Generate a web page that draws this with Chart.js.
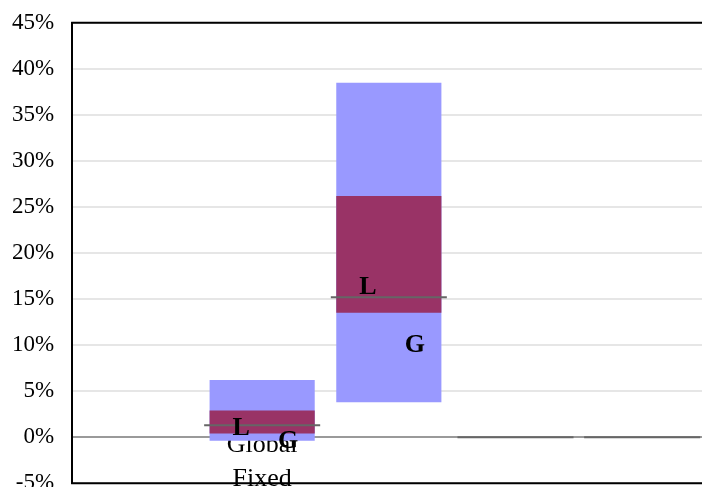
<!DOCTYPE html>
<html>
<head>
<meta charset="utf-8">
<script src="https://cdn.jsdelivr.net/npm/chart.js@4"></script>
<style>
  html, body { margin: 0; padding: 0; background: #fff; overflow: hidden; }
  body { width: 702px; height: 487px; position: relative; }
  #wrap { position: absolute; left: -19px; top: -9px; width: 726px; height: 524px; }
</style>
</head>
<body>
<div id="wrap"><canvas id="c"></canvas></div>
<script>
// Categories along the x axis
const categories = ['', ['Global', 'Fixed'], '', '', ''];

// Outer range (low, high) in percent
const outerLow  = [null, -0.4, 3.8, null, null];
const outerHigh = [null, 6.2, 38.5, null, null];

// Inner range (low, high) in percent
const innerLow  = [null, 0.4, 13.5, null, null];
const innerHigh = [null, 2.9, 26.2, null, null];

// Median marker per category
const medians = [null, 1.3, 15.2, 0, 0];

// Point markers labelled "L" and "G"
const localVals  = [null, 1.0, 16.3, null, null];
const globalVals = [null, -0.4, 10.0, null, null];

// Y axis ticks
const yMin = -5, yMax = 45, yStep = 5;

const SERIF = '"Liberation Serif", "Times New Roman", serif';

function pairs(lo, hi) {
  return lo.map((v, i) => (v == null || hi[i] == null) ? null : [v, hi[i]]);
}

const overlayPlugin = {
  id: 'overlay',
  afterDraw(chart) {
    const { ctx, chartArea: a, scales: { x, y } } = chart;
    const catW = (a.right - a.left) / categories.length;

    // frame top and bottom
    ctx.save();
    ctx.strokeStyle = '#000';
    ctx.lineWidth = 2;
    ctx.beginPath();
    ctx.moveTo(a.left - 1, a.top);
    ctx.lineTo(a.right + 1, a.top);
    ctx.moveTo(a.left - 1, a.bottom);
    ctx.lineTo(a.right + 1, a.bottom);
    ctx.stroke();

    // median lines
    ctx.strokeStyle = '#666666';
    ctx.lineWidth = 2;
    const half = catW * 0.916 / 2;
    medians.forEach((m, i) => {
      if (m == null) return;
      const cx = x.getPixelForValue(i);
      const py = y.getPixelForValue(m);
      ctx.beginPath();
      ctx.moveTo(cx - half, py);
      ctx.lineTo(cx + half, py);
      ctx.stroke();
    });

    // L / G markers
    ctx.fillStyle = '#000';
    ctx.font = 'bold 26px ' + SERIF;
    ctx.textAlign = 'center';
    ctx.textBaseline = 'middle';
    localVals.forEach((v, i) => {
      if (v == null) return;
      ctx.fillText('L', x.getPixelForValue(i) - 21, y.getPixelForValue(v));
    });
    globalVals.forEach((v, i) => {
      if (v == null) return;
      ctx.fillText('G', x.getPixelForValue(i) + 26, y.getPixelForValue(v));
    });
    ctx.restore();
  }
};

new Chart(document.getElementById('c'), {
  type: 'bar',
  data: {
    labels: categories,
    datasets: [
      {
        label: 'Range',
        data: pairs(outerLow, outerHigh),
        backgroundColor: '#9999FF',
        borderWidth: 0,
        grouped: false,
        categoryPercentage: 1,
        barPercentage: 0.83,
        order: 2
      },
      {
        label: 'Inner range',
        data: pairs(innerLow, innerHigh),
        backgroundColor: '#993366',
        borderWidth: 0,
        grouped: false,
        categoryPercentage: 1,
        barPercentage: 0.83,
        order: 1
      }
    ]
  },
  options: {
    responsive: true,
    maintainAspectRatio: false,
    animation: false,
    devicePixelRatio: 1,
    layout: { padding: { left: 13, right: 1.5, top: 23.5, bottom: 16.5 } },
    plugins: {
      legend: { display: false },
      tooltip: { enabled: false }
    },
    scales: {
      x: {
        type: 'category',
        position: { y: 0 },
        z: 1,
        grid: { display: false, drawTicks: false },
        border: { display: true, color: '#9a9a9a', width: 2 },
        ticks: {
          color: '#000',
          padding: -9,
          autoSkip: false,
          maxRotation: 0,
          font: { family: SERIF, size: 26, lineHeight: 1.3 }
        }
      },
      y: {
        min: yMin,
        max: yMax,
        grid: { color: '#e6e6e6', lineWidth: 2, drawTicks: false },
        border: { display: true, color: '#000', width: 2 },
        ticks: {
          stepSize: yStep,
          color: '#000',
          padding: 18,
          font: { family: SERIF, size: 23 },
          callback: v => v + '%'
        }
      }
    }
  },
  plugins: [overlayPlugin]
});
</script>
</body>
</html>
